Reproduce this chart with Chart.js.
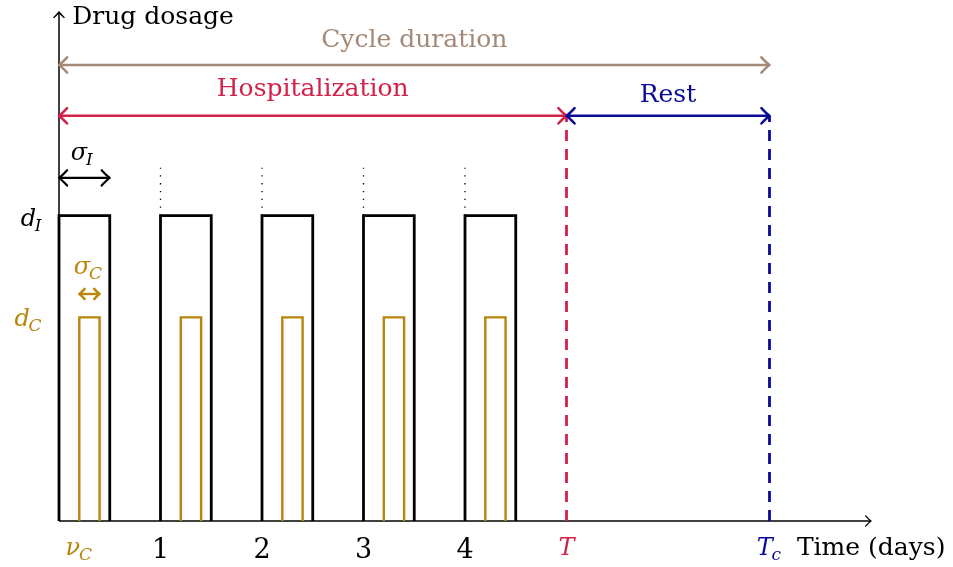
<!DOCTYPE html>
<html>
<head>
<meta charset="utf-8">
<script src="https://cdn.jsdelivr.net/npm/chart.js@4.4.1/dist/chart.umd.min.js"></script>
<style>
  body { margin: 0; background: #fff; }
  #wrap { width: 953px; height: 567px; }
</style>
</head>
<body>
<div id="wrap"><canvas id="chart" width="953" height="567"></canvas></div>
<script>
// schedule values, in days and dose units
const pulseDays = [0, 1, 2, 3, 4];
const immunoDose = 3;      // d_I
const immunoWidth = 0.5;   // sigma_I
const chemoDose = 2;       // d_C
const chemoOffset = 0.2;   // nu_C
const chemoWidth = 0.2;    // sigma_C
const hospitalEnd = 5;     // T
const cycleEnd = 7;        // T_c
const tickDays = [1, 2, 3, 4];
const tickLabels = ['1', '2', '3', '4'];

// arrow heights
const cycleArrowY = 4.48;
const stayArrowY = 3.98;
const sigmaIArrowY = 3.37;
const sigmaCArrowY = 2.23;
const dottedTop = 3.47;

const black = '#000000';
const gold = '#b8860b';
const red = '#d2224a';
const navy = '#0a0a99';
const brown = '#a48a76';

function line(points, color, width, dash) {
    return {
        data: points,
        showLine: true,
        borderColor: color,
        borderWidth: width,
        borderDash: dash || [],
        pointRadius: 0,
        fill: false,
        tension: 0,
        clip: false
    };
}

const datasets = [];
pulseDays.forEach(d => {
    datasets.push(line([
        {x: d, y: 0}, {x: d, y: immunoDose},
        {x: d + immunoWidth, y: immunoDose}, {x: d + immunoWidth, y: 0}
    ], black, 2.8));
    datasets.push(line([
        {x: d + chemoOffset, y: 0}, {x: d + chemoOffset, y: chemoDose},
        {x: d + chemoOffset + chemoWidth, y: chemoDose}, {x: d + chemoOffset + chemoWidth, y: 0}
    ], gold, 2.4));
});
tickDays.forEach(d => {
    datasets.push(line([{x: d, y: immunoDose}, {x: d, y: dottedTop}], '#000', 1.3, [1.3, 6.5]));
});
datasets.push(line([{x: hospitalEnd, y: 0}, {x: hospitalEnd, y: stayArrowY}], red, 2.8, [11, 8]));
datasets.push(line([{x: cycleEnd, y: 0}, {x: cycleEnd, y: stayArrowY}], navy, 2.8, [11, 8]));
// arrows
datasets.push(line([{x: 0, y: cycleArrowY}, {x: cycleEnd, y: cycleArrowY}], brown, 2.5));
datasets.push(line([{x: 0, y: stayArrowY}, {x: hospitalEnd, y: stayArrowY}], red, 2.5));
datasets.push(line([{x: hospitalEnd, y: stayArrowY}, {x: cycleEnd, y: stayArrowY}], navy, 2.5));
datasets.push(line([{x: 0, y: sigmaIArrowY}, {x: immunoWidth, y: sigmaIArrowY}], black, 2.2));
datasets.push(line([{x: chemoOffset, y: sigmaCArrowY}, {x: chemoOffset + chemoWidth, y: sigmaCArrowY}], gold, 2.4));
// axes
datasets.push(line([{x: 0, y: 0}, {x: 8, y: 0}], black, 1.5));
datasets.push(line([{x: 0, y: 0}, {x: 0, y: 5}], black, 1.5));

const arrows = [
    // [x, y, direction, colour, size, width]
    [0, cycleArrowY, 'left', brown, 9, 2.5], [cycleEnd, cycleArrowY, 'right', brown, 9, 2.5],
    [0, stayArrowY, 'left', red, 9, 2.5], [hospitalEnd, stayArrowY, 'right', red, 9, 2.5],
    [hospitalEnd, stayArrowY, 'left', navy, 9, 2.5], [cycleEnd, stayArrowY, 'right', navy, 9, 2.5],
    [0, sigmaIArrowY, 'left', black, 9, 2.2], [immunoWidth, sigmaIArrowY, 'right', black, 9, 2.2],
    [chemoOffset, sigmaCArrowY, 'left', gold, 6, 2.4], [chemoOffset + chemoWidth, sigmaCArrowY, 'right', gold, 6, 2.4],
    [8, 0, 'right', black, 6, 1.4], [0, 5, 'up', black, 6, 1.4]
];

const serif = '"DejaVu Serif", serif';

function mathText(ctx, main, sub, x, y, color, size, align) {
    ctx.fillStyle = color;
    ctx.textBaseline = 'alphabetic';
    ctx.font = 'italic ' + size + 'px ' + serif;
    const w1 = ctx.measureText(main).width;
    const subSize = Math.round(size * 0.72);
    ctx.font = 'italic ' + subSize + 'px ' + serif;
    const w2 = sub ? ctx.measureText(sub).width : 0;
    const total = w1 + w2;
    let left = x;
    if (align === 'center') left = x - total / 2;
    if (align === 'right') left = x - total;
    ctx.textAlign = 'left';
    ctx.font = 'italic ' + size + 'px ' + serif;
    ctx.fillText(main, left, y);
    if (sub) {
        ctx.font = 'italic ' + subSize + 'px ' + serif;
        ctx.fillText(sub, left + w1 - size * 0.05, y + size * 0.22);
    }
}

const decor = {
    id: 'decor',
    afterDatasetsDraw(chart) {
        const ctx = chart.ctx;
        const xs = chart.scales.x, ys = chart.scales.y;
        const px = v => xs.getPixelForValue(v), py = v => ys.getPixelForValue(v);
        ctx.save();
        ctx.lineCap = 'round';
        ctx.lineJoin = 'round';
        arrows.forEach(([x, y, dir, color, s, w]) => {
            const X = px(x), Y = py(y);
            ctx.strokeStyle = color;
            ctx.lineWidth = w;
            ctx.beginPath();
            if (dir === 'left') {
                ctx.moveTo(X + s * 0.9, Y - s * 0.85);
                ctx.quadraticCurveTo(X + s * 0.3, Y - s * 0.2, X, Y);
                ctx.quadraticCurveTo(X + s * 0.3, Y + s * 0.2, X + s * 0.9, Y + s * 0.85);
            } else if (dir === 'right') {
                ctx.moveTo(X - s * 0.9, Y - s * 0.85);
                ctx.quadraticCurveTo(X - s * 0.3, Y - s * 0.2, X, Y);
                ctx.quadraticCurveTo(X - s * 0.3, Y + s * 0.2, X - s * 0.9, Y + s * 0.85);
            } else {
                ctx.moveTo(X - s * 0.85, Y + s * 0.9);
                ctx.quadraticCurveTo(X - s * 0.2, Y + s * 0.3, X, Y);
                ctx.quadraticCurveTo(X + s * 0.2, Y + s * 0.3, X + s * 0.85, Y + s * 0.9);
            }
            ctx.stroke();
        });

        // plain text labels
        ctx.textBaseline = 'alphabetic';
        ctx.font = '25px ' + serif;
        ctx.fillStyle = black;
        ctx.textAlign = 'left';
        ctx.fillText('Drug dosage', px(0.13), py(4.88));
        ctx.fillText('Time (days)', px(7.27), py(-0.33));
        ctx.textAlign = 'center';
        ctx.fillStyle = brown;
        ctx.fillText('Cycle duration', px(cycleEnd / 2), py(4.66));
        ctx.fillStyle = red;
        ctx.fillText('Hospitalization', px(hospitalEnd / 2), py(4.17));
        ctx.fillStyle = navy;
        ctx.fillText('Rest', px((hospitalEnd + cycleEnd) / 2), py(4.12));

        // day ticks
        ctx.fillStyle = black;
        ctx.font = '27px ' + serif;
        tickDays.forEach((d, i) => ctx.fillText(tickLabels[i], px(d), py(-0.36)));

        // symbols
        mathText(ctx, 'T', '', px(hospitalEnd), py(-0.33), red, 24, 'center');
        mathText(ctx, 'T', 'c', px(cycleEnd), py(-0.33), navy, 24, 'center');
        mathText(ctx, 'ν', 'C', px(chemoOffset), py(-0.33), gold, 24, 'center');
        mathText(ctx, 'd', 'I', px(-0.16), py(2.9), black, 24, 'right');
        mathText(ctx, 'd', 'C', px(-0.16), py(1.92), gold, 24, 'right');
        mathText(ctx, 'σ', 'I', px(0.23), py(3.55), black, 24, 'center');
        mathText(ctx, 'σ', 'C', px(0.29), py(2.43), gold, 24, 'center');
        ctx.restore();
    }
};

new Chart(document.getElementById('chart'), {
    type: 'scatter',
    data: { datasets: datasets },
    options: {
        responsive: false,
        animation: false,
        layout: { padding: { left: 59, right: 82, top: 12, bottom: 46 } },
        scales: {
            x: { type: 'linear', min: 0, max: 8, display: false },
            y: { type: 'linear', min: 0, max: 5, display: false }
        },
        plugins: { legend: { display: false }, tooltip: { enabled: false } }
    },
    plugins: [decor]
});
</script>
</body>
</html>
